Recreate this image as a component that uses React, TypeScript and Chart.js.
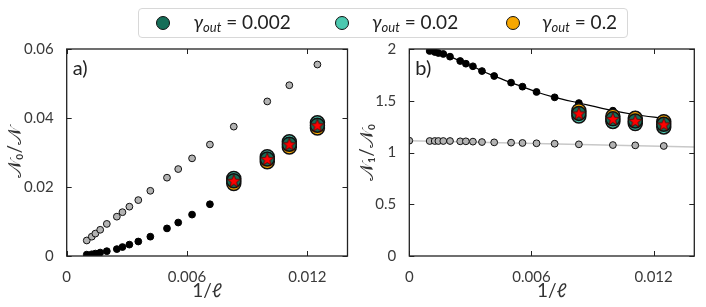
import React, { useEffect, useRef } from 'react';
import { Chart, registerables } from 'chart.js';
Chart.register(...registerables);

// ---------- data ----------
const invL = [0.001, 0.00125, 0.00143, 0.00167, 0.002, 0.0025, 0.00278, 0.003125, 0.00357, 0.00417, 0.005, 0.00556, 0.00625, 0.00714, 0.00833, 0.01, 0.0111, 0.0125];
const leftGray = [0.0045, 0.0056, 0.0065, 0.0076, 0.0093, 0.0114, 0.0127, 0.0143, 0.0162, 0.0189, 0.0227, 0.0252, 0.0283, 0.0323, 0.0375, 0.0448, 0.0495, 0.0555];
const leftBlack = [0.0004, 0.0005, 0.0007, 0.001, 0.0014, 0.002, 0.0026, 0.0033, 0.0042, 0.0056, 0.008, 0.0097, 0.012, 0.015];

const clusterX = [0.00833, 0.01, 0.0111, 0.0125];
const leftG002 = [0.0218, 0.0281, 0.0324, 0.0379];
const leftG02 = [0.0225, 0.0288, 0.0331, 0.0386];
const leftG2 = [0.0210, 0.0273, 0.0316, 0.0371];
const leftStar = [0.0218, 0.0281, 0.0324, 0.0379];

const rightBlack = [1.981, 1.971, 1.961, 1.952, 1.926, 1.884, 1.858, 1.833, 1.787, 1.739, 1.675, 1.636, 1.585, 1.533, 1.478, 1.404, 1.365, 1.33];
const rightGrayX0 = 0;
const rightGrayY0 = 1.114;
const rightGray = [1.111, 1.111, 1.111, 1.111, 1.111, 1.108, 1.108, 1.105, 1.101, 1.098, 1.095, 1.092, 1.089, 1.085, 1.079, 1.072, 1.069, 1.063];
const grayFitX = [0, 0.014];
const grayFitY = [1.114, 1.053];

const rightG002 = [1.378, 1.325, 1.305, 1.272];
const rightG02 = [1.353, 1.300, 1.280, 1.247];
const rightG2 = [1.403, 1.350, 1.330, 1.297];
const rightStar = [1.378, 1.325, 1.305, 1.272];

const xTickVals = [0, 0.006, 0.012];
const xTickLabels = ['0', '0.006', '0.012'];
const leftYTicks = [0, 0.02, 0.04, 0.06];
const leftYLabels = ['0', '0.02', '0.04', '0.06'];
const rightYTicks = [0, 0.5, 1, 1.5, 2];
const rightYLabels = ['0', '0.5', '1', '1.5', '2'];

const gammaLabels = ['0.002', '0.02', '0.2'];
const gammaColors = ['#166e58', '#4cc9b0', '#f7a700'];

const FONT = 'Lato, "DejaVu Sans", sans-serif';

// ---------- helpers ----------
const pts = (xs: number[], ys: number[]) => ys.map((y, i) => ({ x: xs[i], y }));

function makeStar(): HTMLCanvasElement {
  const c = document.createElement('canvas');
  c.width = 16; c.height = 16;
  const ctx = c.getContext('2d')!;
  ctx.beginPath();
  for (let i = 0; i < 10; i++) {
    const r = i % 2 === 0 ? 6.9 : 2.9;
    const a = -Math.PI / 2 + (i * Math.PI) / 5;
    ctx.lineTo(8 + r * Math.cos(a), 8.6 + r * Math.sin(a));
  }
  ctx.closePath();
  ctx.fillStyle = '#ff0000';
  ctx.fill();
  ctx.lineWidth = 0.7;
  ctx.strokeStyle = '#300';
  ctx.stroke();
  return c;
}

const framePlugin = {
  id: 'frame',
  afterDatasetsDraw(chart: any, _args: any, opts: any) {
    const { ctx, chartArea: a } = chart;
    const xs = chart.scales.x, ys = chart.scales.y;
    ctx.save();
    ctx.strokeStyle = '#222';
    ctx.lineWidth = 1;
    const line = (x1: number, y1: number, x2: number, y2: number) => {
      ctx.beginPath(); ctx.moveTo(x1, y1); ctx.lineTo(x2, y2); ctx.stroke();
    };
    xs.ticks.forEach((t: any) => {
      const px = Math.round(xs.getPixelForValue(t.value)) + 0.5;
      line(px, a.bottom, px, a.bottom - 5);
      line(px, a.top, px, a.top + 5);
    });
    ys.ticks.forEach((t: any) => {
      const py = Math.round(ys.getPixelForValue(t.value)) + 0.5;
      line(a.left, py, a.left + 5, py);
      line(a.right, py, a.right - 5, py);
    });
    ctx.lineWidth = 1.3;
    ctx.strokeRect(a.left, a.top, a.right - a.left, a.bottom - a.top);
    ctx.fillStyle = '#222';
    ctx.font = '20px ' + FONT;
    ctx.textBaseline = 'middle';
    ctx.textAlign = 'left';
    ctx.fillText(opts.label, a.left + 6, a.top + 20);
    ctx.restore();
  },
};

function makeScales(yTicks: number[], yLabels: string[], yMax: number, yTitle: string, yWidth: number, yTitlePad: number) {
  return {
    x: {
      type: 'linear',
      min: 0,
      max: 0.014,
      grid: { display: false },
      border: { display: false },
      afterBuildTicks: (s: any) => { s.ticks = xTickVals.map((v) => ({ value: v })); },
      afterFit: (s: any) => { s.height = 51; },
      ticks: {
        autoSkip: false,
        maxRotation: 0,
        padding: 4,
        color: '#3a3a3a',
        font: { size: 15, family: FONT },
        callback: (_v: any, i: number) => xTickLabels[i],
      },
      title: {
        display: true,
        text: '1/ℓ',
        color: '#333',
        font: { size: 19, family: FONT },
        padding: { top: 0, bottom: 5 },
      },
    },
    y: {
      type: 'linear',
      min: 0,
      max: yMax,
      grid: { display: false },
      border: { display: false },
      afterBuildTicks: (s: any) => { s.ticks = yTicks.map((v) => ({ value: v })); },
      afterFit: (s: any) => { s.width = yWidth; },
      ticks: {
        autoSkip: false,
        padding: 5,
        color: '#3a3a3a',
        font: { size: 15, family: FONT },
        callback: (_v: any, i: number) => yLabels[i],
      },
      title: {
        display: true,
        text: yTitle,
        color: '#333',
        font: { size: 19, family: FONT },
        padding: { top: yTitlePad, bottom: 0 },
      },
    },
  };
}

function clusterSets(g002: number[], g02: number[], g2: number[], star: number[], starImg: HTMLCanvasElement) {
  const circ = (data: number[], color: string, order: number) => ({
    data: pts(clusterX, data),
    backgroundColor: color,
    borderColor: '#111',
    borderWidth: 1.5,
    pointRadius: 7,
    order,
  });
  return [
    circ(g2, gammaColors[2], 4),
    circ(g02, gammaColors[1], 3),
    circ(g002, gammaColors[0], 2),
    { data: pts(clusterX, star), pointStyle: starImg, pointRadius: 7, order: 1 },
  ];
}

function leftConfig(): any {
  const star = makeStar();
  return {
    type: 'scatter',
    data: {
      datasets: [
        { data: pts(invL, leftGray), backgroundColor: '#b3b3b3', borderColor: '#111', borderWidth: 1, pointRadius: 3.4, order: 6 },
        { data: pts(invL, leftBlack), backgroundColor: '#000', borderColor: '#000', borderWidth: 1, pointRadius: 3.4, order: 6 },
        ...clusterSets(leftG002, leftG02, leftG2, leftStar, star),
      ],
    },
    options: {
      responsive: false,
      animation: false,
      events: [],
      layout: { padding: { top: 49, right: 3.7, left: 0, bottom: 0 } },
      plugins: { legend: { display: false }, tooltip: { enabled: false }, frame: { label: 'a)' } },
      scales: makeScales(leftYTicks, leftYLabels, 0.06, '𝒩₀/𝒩', 66.7, 3.6),
    },
    plugins: [framePlugin],
  };
}

function rightConfig(): any {
  const star = makeStar();
  return {
    type: 'scatter',
    data: {
      datasets: [
        { data: pts(grayFitX, grayFitY), showLine: true, borderColor: '#c8c8c8', borderWidth: 1.5, pointRadius: 0, order: 9 },
        { data: pts(invL, rightBlack), showLine: true, cubicInterpolationMode: 'monotone', borderColor: '#000', borderWidth: 1.2, pointRadius: 0, order: 8 },
        { data: [{ x: rightGrayX0, y: rightGrayY0 }, ...pts(invL, rightGray)], backgroundColor: '#b3b3b3', borderColor: '#111', borderWidth: 1, pointRadius: 3.4, order: 6, clip: 0 },
        { data: pts(invL, rightBlack), backgroundColor: '#000', borderColor: '#000', borderWidth: 1, pointRadius: 3.4, order: 6 },
        ...clusterSets(rightG002, rightG02, rightG2, rightStar, star),
      ],
    },
    options: {
      responsive: false,
      animation: false,
      events: [],
      layout: { padding: { top: 49, right: 11.7, left: 0, bottom: 0 } },
      plugins: { legend: { display: false }, tooltip: { enabled: false }, frame: { label: 'b)' } },
      scales: makeScales(rightYTicks, rightYLabels, 2, '𝒩₁/𝒩₀', 59.3, 5.3),
    },
    plugins: [framePlugin],
  };
}

function Panel({ left, makeConfig }: { left: number; makeConfig: () => any }) {
  const ref = useRef<HTMLCanvasElement>(null);
  useEffect(() => {
    const chart = new Chart(ref.current!, makeConfig());
    return () => chart.destroy();
  }, []);
  return (
    <canvas
      ref={ref}
      width={356}
      height={307}
      style={{ position: 'absolute', left, top: 0, width: 356, height: 307 }}
    />
  );
}

function Legend() {
  const boxLeft = 138;
  const circleX = [162.3, 341.7, 512.7];
  const textX = [192.5, 371, 541];
  return (
    <div
      style={{
        position: 'absolute', left: boxLeft, top: 8, width: 490, height: 30,
        border: '1.5px solid #d8d8d8', borderRadius: 4, background: '#fff', boxSizing: 'border-box',
        fontFamily: FONT, color: '#222',
      }}
    >
      {gammaLabels.map((g, i) => (
        <React.Fragment key={g}>
          <div
            style={{
              position: 'absolute', left: circleX[i] - boxLeft - 7.5, top: 7, width: 12, height: 12,
              borderRadius: '50%', background: gammaColors[i], border: '1.5px solid #111',
            }}
          />
          <div style={{ position: 'absolute', left: textX[i] - boxLeft, top: 1, fontSize: 19, lineHeight: '24px', whiteSpace: 'nowrap' }}>
            <span style={{ fontStyle: 'italic' }}>γ</span>
            <sub style={{ fontStyle: 'italic', fontSize: 13, verticalAlign: '-3px' }}>out</sub>
            <span> = {g}</span>
          </div>
        </React.Fragment>
      ))}
    </div>
  );
}

export default function App() {
  return (
    <div style={{ position: 'fixed', left: 0, top: 0, width: 706, height: 307, background: '#fff' }}>
      <Panel left={0} makeConfig={leftConfig} />
      <Panel left={350} makeConfig={rightConfig} />
      <Legend />
    </div>
  );
}
